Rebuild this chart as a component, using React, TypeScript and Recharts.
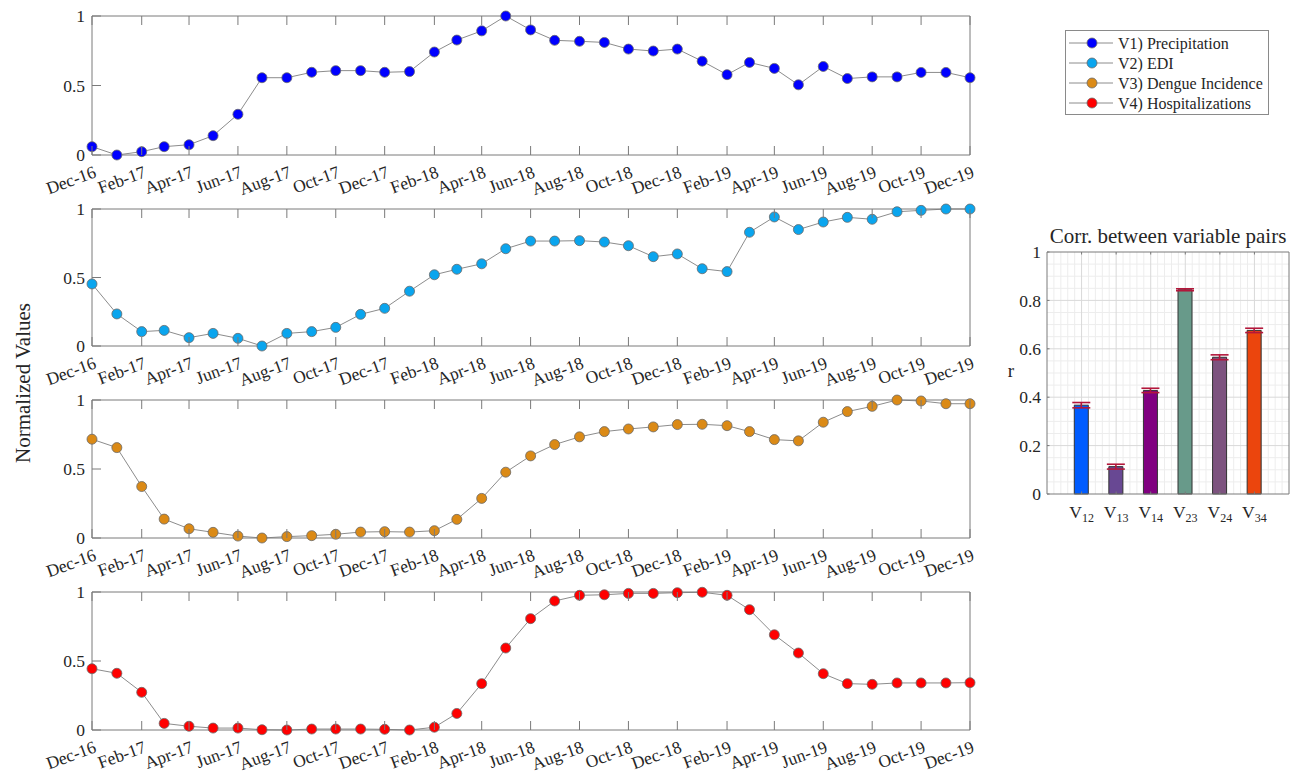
import React from 'react';
import { LineChart, Line, XAxis, YAxis, BarChart, Bar, Cell, ErrorBar, CartesianGrid } from 'recharts';

// monthly series, Dec-16 .. Dec-19 (normalized 0..1)
const months = [
  'Dec-16', 'Jan-17', 'Feb-17', 'Mar-17', 'Apr-17', 'May-17', 'Jun-17', 'Jul-17', 'Aug-17', 'Sep-17',
  'Oct-17', 'Nov-17', 'Dec-17', 'Jan-18', 'Feb-18', 'Mar-18', 'Apr-18', 'May-18', 'Jun-18', 'Jul-18',
  'Aug-18', 'Sep-18', 'Oct-18', 'Nov-18', 'Dec-18', 'Jan-19', 'Feb-19', 'Mar-19', 'Apr-19', 'May-19',
  'Jun-19', 'Jul-19', 'Aug-19', 'Sep-19', 'Oct-19', 'Nov-19', 'Dec-19',
];
const tickLabels = [
  'Dec-16', 'Feb-17', 'Apr-17', 'Jun-17', 'Aug-17', 'Oct-17', 'Dec-17', 'Feb-18', 'Apr-18', 'Jun-18',
  'Aug-18', 'Oct-18', 'Dec-18', 'Feb-19', 'Apr-19', 'Jun-19', 'Aug-19', 'Oct-19', 'Dec-19',
];

const precipitation = [
  0.06, 0, 0.024, 0.06, 0.074, 0.139, 0.293, 0.556, 0.556, 0.595,
  0.607, 0.607, 0.595, 0.6, 0.741, 0.827, 0.893, 1.0, 0.9, 0.825,
  0.818, 0.81, 0.762, 0.748, 0.762, 0.675, 0.578, 0.666, 0.623, 0.505,
  0.637, 0.55, 0.562, 0.562, 0.594, 0.594, 0.556,
];
const edi = [
  0.453, 0.234, 0.105, 0.114, 0.061, 0.092, 0.056, 0, 0.092, 0.105,
  0.136, 0.231, 0.275, 0.4, 0.52, 0.56, 0.6, 0.71, 0.766, 0.766,
  0.769, 0.759, 0.732, 0.652, 0.672, 0.564, 0.543, 0.83, 0.942, 0.85,
  0.905, 0.939, 0.925, 0.98, 0.99, 1, 1,
];
const dengue = [
  0.716, 0.655, 0.373, 0.137, 0.067, 0.041, 0.014, 0, 0.01, 0.017,
  0.027, 0.043, 0.046, 0.043, 0.053, 0.135, 0.287, 0.477, 0.595, 0.677,
  0.733, 0.771, 0.79, 0.805, 0.822, 0.824, 0.814, 0.771, 0.713, 0.704,
  0.839, 0.916, 0.954, 1.0, 0.993, 0.973, 0.973,
];
const hospitalizations = [
  0.444, 0.411, 0.273, 0.048, 0.027, 0.014, 0.014, 0.002, 0, 0.007,
  0.007, 0.007, 0.005, 0, 0.02, 0.12, 0.336, 0.594, 0.807, 0.935,
  0.976, 0.98, 0.99, 0.99, 0.995, 0.998, 0.976, 0.872, 0.69, 0.558,
  0.408, 0.336, 0.331, 0.341, 0.341, 0.341, 0.343,
];

// correlation bar chart
const pairs = ['12', '13', '14', '23', '24', '34'];
const corr = [0.367, 0.113, 0.428, 0.844, 0.565, 0.676];
const corrErr = [0.011, 0.01, 0.009, 0.004, 0.01, 0.009];
const barColors = ['#005cff', '#684893', '#800080', '#689a8a', '#7d537f', '#eb450d'];

const SERIF = "'Liberation Serif', 'Times New Roman', serif";
const AXIS = '#7a7a7a';
const TXT = '#262626';

const MON = ['Jan', 'Feb', 'Mar', 'Apr', 'May', 'Jun', 'Jul', 'Aug', 'Sep', 'Oct', 'Nov', 'Dec'];
const dayOf = (label: string) => {
  const [m, y] = label.split('-');
  return (Date.UTC(2000 + Number(y), MON.indexOf(m), 1) - Date.UTC(2016, 11, 1)) / 86400000;
};
const tickDays = tickLabels.map(dayOf);
const END = dayOf('Dec-19');
const labelOf = (t: number) => tickLabels[tickDays.indexOf(t)] ?? '';

const BottomTick = ({ x, y, payload }: any) => (
  <g>
    <line x1={x} x2={x} y1={y} y2={y - 9} stroke={AXIS} />
    <text
      transform={`translate(${x + 1},${y + 10}) rotate(-20)`}
      textAnchor="end"
      dy="0.72em"
      fontSize={17.5}
      fontFamily={SERIF}
      fill={TXT}
    >
      {labelOf(payload.value)}
    </text>
  </g>
);
const TopTick = ({ x, y }: any) => <line x1={x} x2={x} y1={y} y2={y + 9} stroke={AXIS} />;
const LeftTick = ({ x, y, payload }: any) => (
  <g>
    <line x1={x} x2={x + 9} y1={y} y2={y} stroke={AXIS} />
    <text x={x - 7} y={y} dy="0.35em" textAnchor="end" fontSize={17.5} fontFamily={SERIF} fill={TXT}>
      {payload.value}
    </text>
  </g>
);
const RightTick = ({ x, y }: any) => <line x1={x} x2={x - 9} y1={y} y2={y} stroke={AXIS} />;

function LinePanel({ values, color, top, bottom }: { values: number[]; color: string; top: number; bottom: number }) {
  const data = months.map((m, i) => ({ t: dayOf(m), v: values[i] }));
  const h = bottom - top;
  return (
    <div style={{ position: 'absolute', left: 0, top: top - 10 }}>
      <LineChart width={1000} height={h + 60} data={data} margin={{ top: 9, right: 29, bottom: 1, left: 0 }}>
        <XAxis xAxisId="b" dataKey="t" type="number" domain={[0, END]} ticks={tickDays} interval={0}
          height={49} tickSize={0} tickMargin={0} tickLine={false} axisLine={{ stroke: AXIS }} tick={<BottomTick />} />
        <XAxis xAxisId="t" orientation="top" dataKey="t" type="number" domain={[0, END]} ticks={tickDays} interval={0}
          height={1} tickSize={0} tickMargin={0} tickLine={false} axisLine={{ stroke: AXIS }} tick={<TopTick />} />
        <YAxis yAxisId="l" type="number" domain={[0, 1]} ticks={[0, 0.5, 1]} interval={0}
          width={92} tickSize={0} tickMargin={0} tickLine={false} axisLine={{ stroke: AXIS }} tick={<LeftTick />} />
        <YAxis yAxisId="r" orientation="right" type="number" domain={[0, 1]} ticks={[0, 0.5, 1]} interval={0}
          width={1} tickSize={0} tickMargin={0} tickLine={false} axisLine={{ stroke: AXIS }} tick={<RightTick />} />
        <Line xAxisId="b" yAxisId="l" type="linear" dataKey="v" stroke="#8c8c8c" strokeWidth={1}
          dot={{ r: 5, fill: color, stroke: '#6a6a6a', strokeWidth: 0.8 }} activeDot={false} isAnimationActive={false} />
      </LineChart>
    </div>
  );
}

const barData = pairs.map((p, i) => ({ x: i + 1, r: corr[i], err: corrErr[i] }));
const minorX: number[] = [];
for (let k = 1; k < 35; k++) if (k % 5 !== 0) minorX.push(k / 5);
const minorY: number[] = [];
for (let k = 1; k < 20; k++) if (k % 4 !== 0) minorY.push(k / 20);

const BarXTick = ({ x, y, payload }: any) => (
  <g>
    <line x1={x} x2={x} y1={y} y2={y - 2.5} stroke={AXIS} />
    <text x={x} y={y + 24} textAnchor="middle" fontSize={17.5} fontFamily={SERIF} fill={TXT}>
      V<tspan fontSize={12} dy={4}>{pairs[payload.value - 1]}</tspan>
    </text>
  </g>
);
const BarYTick = ({ x, y, payload }: any) => (
  <g>
    <line x1={x} x2={x + 2.5} y1={y} y2={y} stroke={AXIS} />
    <text x={x - 6} y={y} dy="0.35em" textAnchor="end" fontSize={17.5} fontFamily={SERIF} fill={TXT}>
      {payload.value}
    </text>
  </g>
);
const SmallTopTick = ({ x, y }: any) => <line x1={x} x2={x} y1={y} y2={y + 2.5} stroke={AXIS} />;
const SmallRightTick = ({ x, y }: any) => <line x1={x} x2={x - 2.5} y1={y} y2={y} stroke={AXIS} />;

function CorrChart() {
  return (
    <div style={{ position: 'absolute', left: 960, top: 200 }}>
      <BarChart width={347} height={334} data={barData} margin={{ top: 51, right: 17, bottom: 1, left: 0 }}>
        <CartesianGrid xAxisId="b" yAxisId="l" horizontalValues={minorY} verticalValues={minorX} stroke="#ededed" />
        <CartesianGrid xAxisId="b" yAxisId="l" horizontalValues={[0.2, 0.4, 0.6, 0.8]} verticalValues={[1, 2, 3, 4, 5, 6]} stroke="#d9d9d9" />
        <XAxis xAxisId="b" dataKey="x" type="number" domain={[0, 7]} ticks={[1, 2, 3, 4, 5, 6]} interval={0}
          height={39} tickSize={0} tickMargin={0} tickLine={false} axisLine={{ stroke: AXIS }} tick={<BarXTick />} />
        <XAxis xAxisId="t" orientation="top" dataKey="x" type="number" domain={[0, 7]} ticks={[1, 2, 3, 4, 5, 6]} interval={0}
          height={1} tickSize={0} tickMargin={0} tickLine={false} axisLine={{ stroke: AXIS }} tick={<SmallTopTick />} />
        <YAxis yAxisId="l" type="number" domain={[0, 1]} ticks={[0, 0.2, 0.4, 0.6, 0.8, 1]} interval={0}
          width={87} tickSize={0} tickMargin={0} tickLine={false} axisLine={{ stroke: AXIS }} tick={<BarYTick />} />
        <YAxis yAxisId="r" orientation="right" type="number" domain={[0, 1]} ticks={[0, 0.2, 0.4, 0.6, 0.8, 1]} interval={0}
          width={1} tickSize={0} tickMargin={0} tickLine={false} axisLine={{ stroke: AXIS }} tick={<SmallRightTick />} />
        <Bar xAxisId="b" yAxisId="l" dataKey="r" barSize={14} stroke="#333333" strokeWidth={1} isAnimationActive={false}>
          {barData.map((d, i) => (
            <Cell key={`c-${i}`} fill={barColors[i]} />
          ))}
          <ErrorBar dataKey="err" width={9} stroke="#b3173b" strokeWidth={1.6} direction="y" isAnimationActive={false} />
        </Bar>
      </BarChart>
    </div>
  );
}

const legendItems = [
  { label: 'V1) Precipitation', color: '#0000ff' },
  { label: 'V2) EDI', color: '#0aa5ee' },
  { label: 'V3) Dengue Incidence', color: '#db8a16' },
  { label: 'V4) Hospitalizations', color: '#ff0000' },
];

export default function App() {
  return (
    <div style={{ position: 'absolute', left: 0, top: 0, width: 1307, height: 773, background: '#fff', fontFamily: SERIF }}>
      <LinePanel values={precipitation} color={legendItems[0].color} top={16} bottom={155} />
      <LinePanel values={edi} color={legendItems[1].color} top={209} bottom={346} />
      <LinePanel values={dengue} color={legendItems[2].color} top={400} bottom={538} />
      <LinePanel values={hospitalizations} color={legendItems[3].color} top={592} bottom={730} />
      <CorrChart />
      <svg width={1307} height={773} style={{ position: 'absolute', left: 0, top: 0, pointerEvents: 'none' }}>
        <text transform="translate(30,383) rotate(-90)" textAnchor="middle" fontSize={21} fontFamily={SERIF} fill={TXT}>
          Normalized Values
        </text>
        <text x={1168} y={243} textAnchor="middle" fontSize={21} fontFamily={SERIF} fill={TXT}>
          Corr. between variable pairs
        </text>
        <text x={1011} y={377} textAnchor="middle" fontSize={19} fontFamily={SERIF} fill={TXT}>
          r
        </text>
        <rect x={1065.5} y={30.5} width={203} height={84} fill="#fff" stroke="#8a8a8a" />
        {legendItems.map((it, i) => {
          const y = 43 + i * 20;
          return (
            <g key={it.label}>
              <line x1={1069} x2={1113} y1={y} y2={y} stroke="#8c8c8c" />
              <circle cx={1092} cy={y} r={5} fill={it.color} stroke="#6a6a6a" strokeWidth={0.8} />
              <text x={1118} y={y + 5.5} fontSize={16} fontFamily={SERIF} fill={TXT}>
                {it.label}
              </text>
            </g>
          );
        })}
      </svg>
    </div>
  );
}
